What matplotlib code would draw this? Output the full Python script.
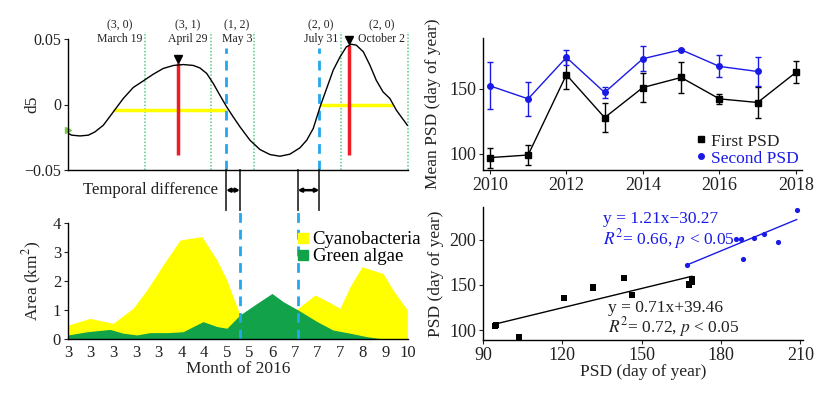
import matplotlib
matplotlib.use("Agg")
import matplotlib.pyplot as plt
from matplotlib.lines import Line2D

plt.rcParams['font.family'] = ['Liberation Serif', 'DejaVu Serif']
plt.rcParams['mathtext.fontset'] = 'stix'
plt.rcParams['axes.linewidth'] = 1.0

TXT = '#222222'
W, H = 830, 397

# ---------------- data: top-left d5 curve (x in month-tick index units) ----------------
d5_x = [0.01, 0.16, 0.53, 0.90, 1.19, 1.56, 2.00, 2.44, 2.88, 3.32, 3.76, 4.20, 4.65, 5.09,
        5.53, 5.82, 6.12, 6.41, 6.70, 7.00, 7.29, 7.59, 8.03, 8.47, 8.91, 9.35, 9.79, 10.23,
        10.53, 10.82, 11.12, 11.41, 11.70, 12.00, 12.28, 12.50, 12.72, 13.03, 13.32, 13.60,
        13.90, 14.20, 14.49, 14.97]
d5_y = [-0.0221, -0.0234, -0.0240, -0.0234, -0.0209, -0.0158, -0.0056, 0.0046, 0.0130, 0.0180,
        0.0231, 0.0275, 0.0298, 0.0305, 0.0298, 0.0279, 0.0237, 0.0160, 0.0071, -0.0018,
        -0.0095, -0.0171, -0.0273, -0.0344, -0.0382, -0.0395, -0.0379, -0.0331, -0.0273,
        -0.0183, -0.0018, 0.0122, 0.0262, 0.0363, 0.0440, 0.0460, 0.0453, 0.0402, 0.0300,
        0.0185, 0.0096, 0.0046, -0.0044, -0.0158]

season_lines = [3.40, 6.31, 8.22, 12.03, 15.01]          # green dotted
psd_lines_top = [6.97, 11.09]                             # blue dashed (top)
psd_lines_bottom = [7.59, 10.13]                          # blue dashed (bottom)
peak_x = [4.84, 12.41]
peak_top = [0.0313, 0.0453]
peak_bottom = [-0.0387, -0.0387]
peak_marker = [0.0344, 0.0496]
base_x0 = [2.00, 11.12]
base_x1 = [6.97, 14.35]
base_y = [-0.0040, -0.0005]
event_codes = ['(3, 0)', '(3, 1)', '(1, 2)', '(2, 0)', '(2, 0)']
event_dates = ['March 19', 'April 29', 'May 3', 'July 31', 'October 2']
event_x = [2.29, 5.27, 7.45, 11.16, 13.85]

# ---------------- data: bottom-left area ----------------
cyano_x = [0, 0.97, 1.99, 2.87, 3.48, 4.19, 4.94, 5.38, 5.91, 6.57, 7.01, 7.28, 7.59, 8.7,
           9.8, 10.15, 10.9, 11.47, 12.0, 12.44, 12.97, 13.9, 14.34, 14.97]
cyano_y = [0.48, 0.71, 0.54, 1.06, 1.69, 2.55, 3.41, 3.47, 3.53, 2.72, 2.03, 1.46, 0.83, 0.5,
           0.8, 1.06, 1.52, 1.29, 1.06, 1.80, 2.49, 2.26, 1.69, 1.0]
green_x = [0, 0.84, 1.85, 2.43, 3.04, 3.62, 4.37, 5.07, 5.96, 6.57, 7.01, 7.59, 8.34, 9.0,
           9.49, 10.15, 10.99, 11.69, 12.44, 13.19, 13.9, 14.97]
green_y = [0.14, 0.25, 0.33, 0.2, 0.14, 0.22, 0.22, 0.25, 0.6, 0.43, 0.37, 0.83, 1.23, 1.57,
           1.29, 1.0, 0.6, 0.31, 0.2, 0.08, 0.0, 0.0]
month_labels = ['3', '3', '3', '3', '3', '4', '4', '5', '5', '6', '7', '7', '7', '8', '9', '10']

# ---------------- data: top-right mean PSD ----------------
years1 = [2010, 2011, 2012, 2013, 2014, 2015, 2016, 2017, 2018]
first_mean = [97.2, 99.2, 160.8, 127.9, 151.0, 158.7, 142.3, 139.5, 162.6]
first_err = [7.7, 7.7, 11.0, 11.3, 11.0, 12.0, 4.0, 12.0, 8.5]
years2 = [2010, 2011, 2012, 2013, 2014, 2015, 2016, 2017]
second_mean = [152.3, 142.3, 174.1, 147.2, 173.1, 180.0, 167.2, 163.3]
second_err = [18.0, 13.0, 6.0, 4.5, 9.5, 0.5, 8.5, 11.5]

# ---------------- data: bottom-right scatter ----------------
first_x = [94.5, 95.0, 103.7, 120.7, 131.6, 131.6, 143.3, 146.5, 168.0, 169.0, 169.0, 168.0]
first_y = [104.4, 105.5, 92.7, 135.4, 147.4, 146.0, 157.7, 139.1, 150.0, 153.0, 156.0, 151.0]
second_x = [167.2, 185.5, 187.4, 188.4, 192.4, 196.4, 201.5, 208.6]
second_y = [172.3, 201.1, 200.4, 178.5, 201.8, 206.1, 197.0, 232.2]
fit1 = (0.71, 39.46, 94.0, 169.0)
fit2 = (1.21, -30.27, 167.0, 208.6)

BLUE = '#1a1ae6'
YEL = '#ffff00'
GRN = '#12a24a'
SKY = '#22a8ee'

fig = plt.figure(figsize=(W / 100, H / 100), dpi=100)


def box(x0, y0, x1, y1):
    return [x0 / W, 1 - y1 / H, (x1 - x0) / W, (y1 - y0) / H]


def clean(ax):
    ax.spines['top'].set_visible(False)
    ax.spines['right'].set_visible(False)
    ax.tick_params(colors=TXT, labelcolor=TXT, length=3, width=0.8, pad=2)


# ================= top-left =================
ax1 = fig.add_axes(box(68, 39, 408, 170))
clean(ax1)
ax1.set_xlim(0, 15)
ax1.set_ylim(-0.05, 0.05)
ax1.set_xticks([])
ax1.set_yticks([-0.05, 0, 0.05])
ax1.set_yticklabels(['\u22120.05', '0', '0.05'], fontsize=11.5)
ax1.set_ylabel('d5', fontsize=12.5, color=TXT)
ax1.yaxis.set_label_coords(-0.082, 0.5)

for xv in season_lines:
    ax1.plot([xv, xv], [-0.05, 0.055], color='#55cc8a', lw=1.1, ls=(0, (1, 1.2)), clip_on=False)
for x0, x1, yv in zip(base_x0, base_x1, base_y):
    ax1.plot([x0, x1], [yv, yv], color=YEL, lw=2.5, solid_capstyle='butt')
for xv, t, b, m in zip(peak_x, peak_top, peak_bottom, peak_marker):
    ax1.plot([xv, xv], [b, t], color='#ee1c24', lw=2.5, solid_capstyle='butt')
    ax1.plot([xv], [m], marker='v', color='black', markersize=6, clip_on=False)
for xv in psd_lines_top:
    ax1.plot([xv, xv], [-0.05, 0.043], color=SKY, lw=2.0, ls=(0, (3.5, 2.5)))
ax1.plot(d5_x, d5_y, color='black', lw=1.0)
ax1.plot([0.02], [d5_y[0] + 0.003], marker='>', color='#7ac943', markersize=5, clip_on=False)

for xc, c, d in zip(event_x, event_codes, event_dates):
    ax1.text(xc, 0.0605, c, ha='center', va='center', fontsize=8.5, color=TXT)
    ax1.text(xc, 0.0498, d, ha='center', va='center', fontsize=8.5, color=TXT)

# temporal difference brackets
ax1.text(6.62, -0.0654, 'Temporal difference', ha='right', va='center', fontsize=12, color=TXT)
for xa, xb in zip(psd_lines_top, psd_lines_bottom):
    for xv in (xa, xb):
        ax1.plot([xv, xv], [-0.05, -0.0807], color='#333333', lw=1.3, clip_on=False)
    lo, hi = min(xa, xb), max(xa, xb)
    ax1.annotate('', xy=(hi, -0.0654), xytext=(lo, -0.0654),
                 arrowprops=dict(arrowstyle='<|-|>', color='black', lw=1.8, mutation_scale=5,
                                 shrinkA=0, shrinkB=0), annotation_clip=False)

# ================= bottom-left =================
ax2 = fig.add_axes(box(68, 223, 408, 339))
clean(ax2)
ax2.set_xlim(0, 15)
ax2.set_ylim(0, 4)
ax2.fill_between(cyano_x, 0, cyano_y, color=YEL, lw=0)
ax2.fill_between(green_x, 0, green_y, color=GRN, lw=0)
for xv in psd_lines_bottom:
    ax2.plot([xv, xv], [0, 4.38], color=SKY, lw=2.0, ls=(0, (3.5, 2.5)), clip_on=False)
ax2.set_xticks(range(len(month_labels)))
ax2.set_xticklabels(month_labels, fontsize=12)
ax2.set_yticks([0, 1, 2, 3, 4])
ax2.tick_params(axis='y', labelsize=12)
ax2.tick_params(axis='x', length=0, pad=4)
ax2.set_xlabel('Month of 2016', fontsize=12.5, color=TXT, labelpad=0)
ax2.set_ylabel('Area (km$^2$)', fontsize=12.5, color=TXT)
ax2.yaxis.set_label_coords(-0.07, 0.5)
h = [Line2D([], [], marker='s', color=YEL, ls='none', markersize=7),
     Line2D([], [], marker='s', color=GRN, ls='none', markersize=7)]
ax2.legend(h, ['Cyanobacteria', 'Green algae'], loc='upper left', bbox_to_anchor=(0.675, 0.93),
           frameon=False, fontsize=13.5, handlelength=0.6, handletextpad=0.2,
           labelspacing=0.0, borderaxespad=0, borderpad=0)

# ================= top-right =================
ax3 = fig.add_axes(box(483, 38, 802, 170))
clean(ax3)
ax3.set_xlim(2009.82, 2018.16)
ax3.set_ylim(87.7, 189)
ax3.errorbar(years1, first_mean, yerr=first_err, color='black', lw=1.0, marker='s',
             markersize=5, capsize=2.5, elinewidth=1.0, label='First PSD')
ax3.errorbar(years2, second_mean, yerr=second_err, color=BLUE, lw=1.0, marker='o',
             markersize=4, capsize=2.5, elinewidth=1.0, label='Second PSD')
ax3.set_xticks([2010, 2012, 2014, 2016, 2018])
ax3.set_yticks([100, 150])
ax3.tick_params(labelsize=13)
ax3.set_ylabel('Mean PSD (day of year)', fontsize=12.5, color=TXT, labelpad=6)
lh = [Line2D([], [], marker='s', color='black', ls='none', markersize=4),
      Line2D([], [], marker='o', color=BLUE, ls='none', markersize=4)]
leg = ax3.legend(lh, ['First PSD', 'Second PSD'], loc='lower right', bbox_to_anchor=(1.0, 0.0),
                 frameon=False, fontsize=12.5, handlelength=0.5, handletextpad=0.3,
                 labelspacing=0.05, borderaxespad=0.1, borderpad=0.1)
for t, c in zip(leg.get_texts(), ['#222222', BLUE]):
    t.set_color(c)

# ================= bottom-right =================
ax4 = fig.add_axes(box(483, 207, 803, 340))
clean(ax4)
ax4.set_xlim(90, 211)
ax4.set_ylim(89, 236)
ax4.scatter(first_x, first_y, marker='s', s=22, color='black', lw=0, zorder=3)
ax4.scatter(second_x, second_y, marker='o', s=14, color=BLUE, lw=0, zorder=3)
for (a, b, x0, x1), col in ((fit1, 'black'), (fit2, BLUE)):
    ax4.plot([x0, x1], [a * x0 + b, a * x1 + b], color=col, lw=1.0)
ax4.set_xticks([90, 120, 150, 180, 210])
ax4.set_yticks([100, 150, 200])
ax4.tick_params(labelsize=13)
ax4.set_xlabel('PSD (day of year)', fontsize=12.5, color=TXT, labelpad=0)
ax4.set_ylabel('PSD (day of year)', fontsize=12.5, color=TXT, labelpad=4)
ax4.text(135.3, 222.7, 'y = 1.21x\u221230.27', fontsize=12.5, color=BLUE, va='center')
ax4.text(135.3, 200.8, '$R^2$= 0.66, $p$ < 0.05', fontsize=12.5, color=BLUE, va='center')
ax4.text(137.2, 124.1, 'y = 0.71x+39.46', fontsize=12.5, color=TXT, va='center')
ax4.text(137.2, 103.3, '$R^2$= 0.72, $p$ < 0.05', fontsize=12.5, color=TXT, va='center')

fig.savefig('out.png', dpi=100)
